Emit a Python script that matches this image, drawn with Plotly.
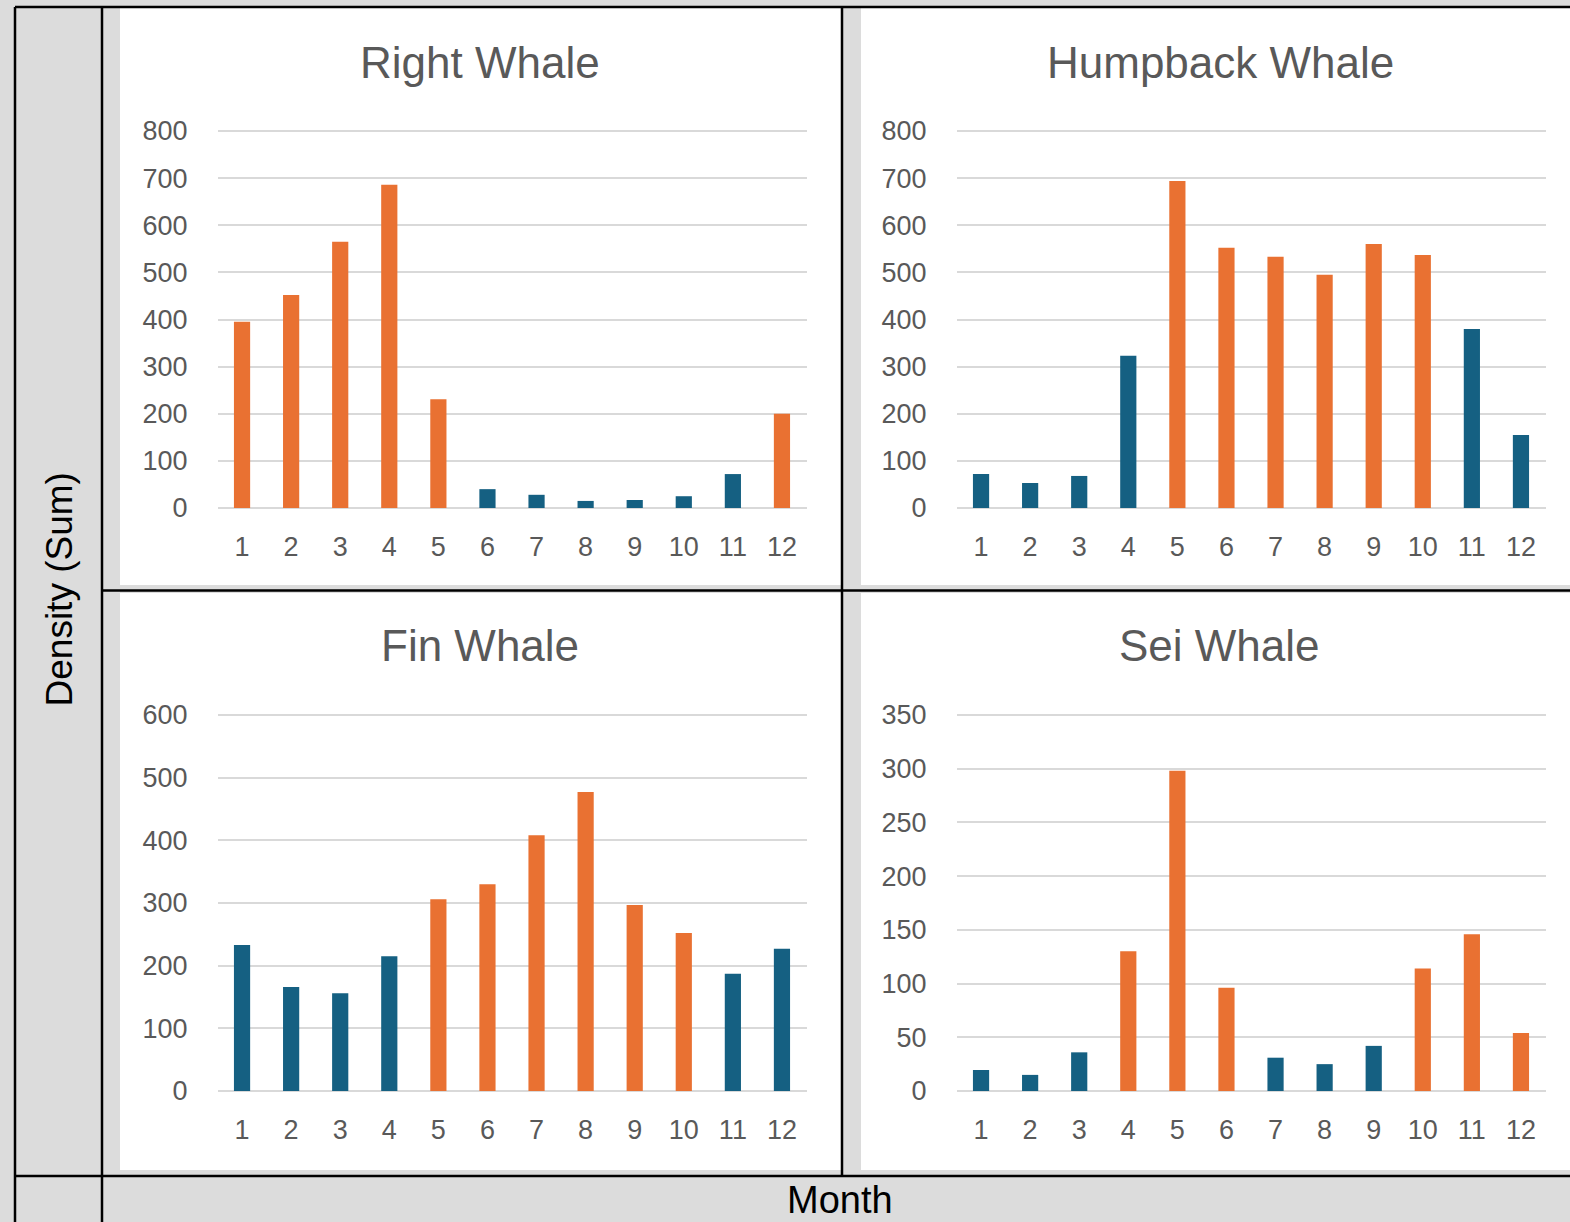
import plotly.graph_objects as go

months = list(range(1, 13))
month_labels = [str(m) for m in months]

right_whale = [395, 452, 565, 686, 231, 40, 28, 15, 17, 25, 72, 200]
right_group = ["hi", "hi", "hi", "hi", "hi", "lo", "lo", "lo", "lo", "lo", "lo", "hi"]

humpback_whale = [72, 53, 68, 323, 694, 552, 533, 495, 560, 537, 380, 155]
humpback_group = ["lo", "lo", "lo", "lo", "hi", "hi", "hi", "hi", "hi", "hi", "lo", "lo"]

fin_whale = [233, 166, 156, 215, 306, 330, 408, 477, 297, 252, 187, 227]
fin_group = ["lo", "lo", "lo", "lo", "hi", "hi", "hi", "hi", "hi", "hi", "lo", "lo"]

sei_whale = [19.5, 15, 36, 130, 298, 96, 31, 25, 42, 114, 146, 54]
sei_group = ["lo", "lo", "lo", "hi", "hi", "hi", "lo", "lo", "lo", "hi", "hi", "hi"]

titles = ["Right Whale", "Humpback Whale", "Fin Whale", "Sei Whale"]
y_ranges = [(0, 800, 100), (0, 800, 100), (0, 600, 100), (0, 350, 50)]

COLORS = {"hi": "#E97132", "lo": "#156082"}
W, H = 1570, 1222
BG = "#DCDCDC"
TXT = "#595959"
GRID = "#D9D9D9"
FONT = "Liberation Sans"

def px(x):
    return x / W

def py(y):
    return 1 - y / H

fig = go.Figure()

series = [(right_whale, right_group), (humpback_whale, humpback_group),
          (fin_whale, fin_group), (sei_whale, sei_group)]

x_domains = [(217.5, 806.5), (956.5, 1545.5), (217.5, 806.5), (956.5, 1545.5)]
# pixel position of value 0 and of the top tick value
y_pix = [(508, 131), (508, 131), (1091, 715), (1091, 715)]

for i, (vals, grp) in enumerate(series):
    n = "" if i == 0 else str(i + 1)
    fig.add_trace(go.Bar(
        x=months, y=vals, width=0.33,
        marker=dict(color=[COLORS[g] for g in grp], line=dict(width=0)),
        xaxis="x" + n, yaxis="y" + n, showlegend=False,
        hovertemplate="%{x}: %{y}<extra></extra>",
    ))
    xd = x_domains[i]
    p0, p1 = y_pix[i]
    lo, hi, dt = y_ranges[i]
    scale = (p0 - p1) / (hi - lo)
    pad = 3.0 / scale  # a little head-room so the top gridline is drawn
    top_px = p1 - pad * scale
    fig.update_layout(**{
        "xaxis" + n: dict(
            domain=[px(xd[0]), px(xd[1])], range=[0.5, 12.5],
            tickvals=months, ticktext=month_labels, showgrid=False,
            zeroline=False, showline=False, ticks="",
            ticklabelstandoff=20, automargin=False,
            tickfont=dict(family=FONT, size=27, color=TXT),
            anchor="y" + n, fixedrange=True,
        ),
        "yaxis" + n: dict(
            domain=[py(p0), py(top_px)], range=[lo, hi + pad], dtick=dt,
            tick0=0, showgrid=True, gridcolor=GRID, gridwidth=2,
            zeroline=True, zerolinecolor=GRID, zerolinewidth=2,
            showline=False, ticks="", ticklabelstandoff=29, automargin=False,
            tickfont=dict(family=FONT, size=27, color=TXT),
            anchor="x" + n, fixedrange=True,
        ),
    })

shapes = []
# white chart panels
for (x0, y0, x1, y1) in [(120, 8, 841, 585), (861, 8, 1572, 585),
                         (120, 593, 841, 1170), (861, 593, 1572, 1170)]:
    shapes.append(dict(type="rect", xref="paper", yref="paper",
                       x0=px(x0), x1=px(x1), y0=py(y1), y1=py(y0),
                       fillcolor="white", line=dict(width=0), layer="below"))
# black grid lines of the table
lines = [
    (15, 7, 1572, 7),
    (15, 7, 15, 1224),
    (102, 7, 102, 1224),
    (842, 7, 842, 1176),
    (102, 590.5, 1572, 590.5),
    (15, 1176, 1572, 1176),
]
for (x0, y0, x1, y1) in lines:
    shapes.append(dict(type="line", xref="paper", yref="paper",
                       x0=px(x0), x1=px(x1), y0=py(y0), y1=py(y1),
                       line=dict(color="black", width=2.5), layer="above"))

annotations = []
title_pos = [(480, 62), (1220, 62), (480, 645), (1219, 645)]
for t, (x, y) in zip(titles, title_pos):
    annotations.append(dict(text=t, x=px(x), y=py(y), xref="paper", yref="paper",
                            showarrow=False, xanchor="center", yanchor="middle",
                            font=dict(family=FONT, size=44, color=TXT)))
annotations.append(dict(text="Density (Sum)", x=px(58.5), y=py(590), xref="paper",
                        yref="paper", showarrow=False, textangle=-90,
                        xanchor="center", yanchor="middle",
                        font=dict(family=FONT, size=37, color="black")))
annotations.append(dict(text="Month", x=px(840), y=py(1200), xref="paper",
                        yref="paper", showarrow=False, xanchor="center",
                        yanchor="middle",
                        font=dict(family=FONT, size=38, color="black")))

fig.update_layout(
    template="none",
    width=W, height=H, margin=dict(l=0, r=0, t=0, b=0, pad=0, autoexpand=False),
    paper_bgcolor=BG, plot_bgcolor="rgba(0,0,0,0)",
    shapes=shapes, annotations=annotations, bargap=0.6,
)

fig.write_html(
    "out.html",
    config={"displayModeBar": False},
    post_script="document.body.style.margin='0';document.body.style.overflow='hidden';",
)
